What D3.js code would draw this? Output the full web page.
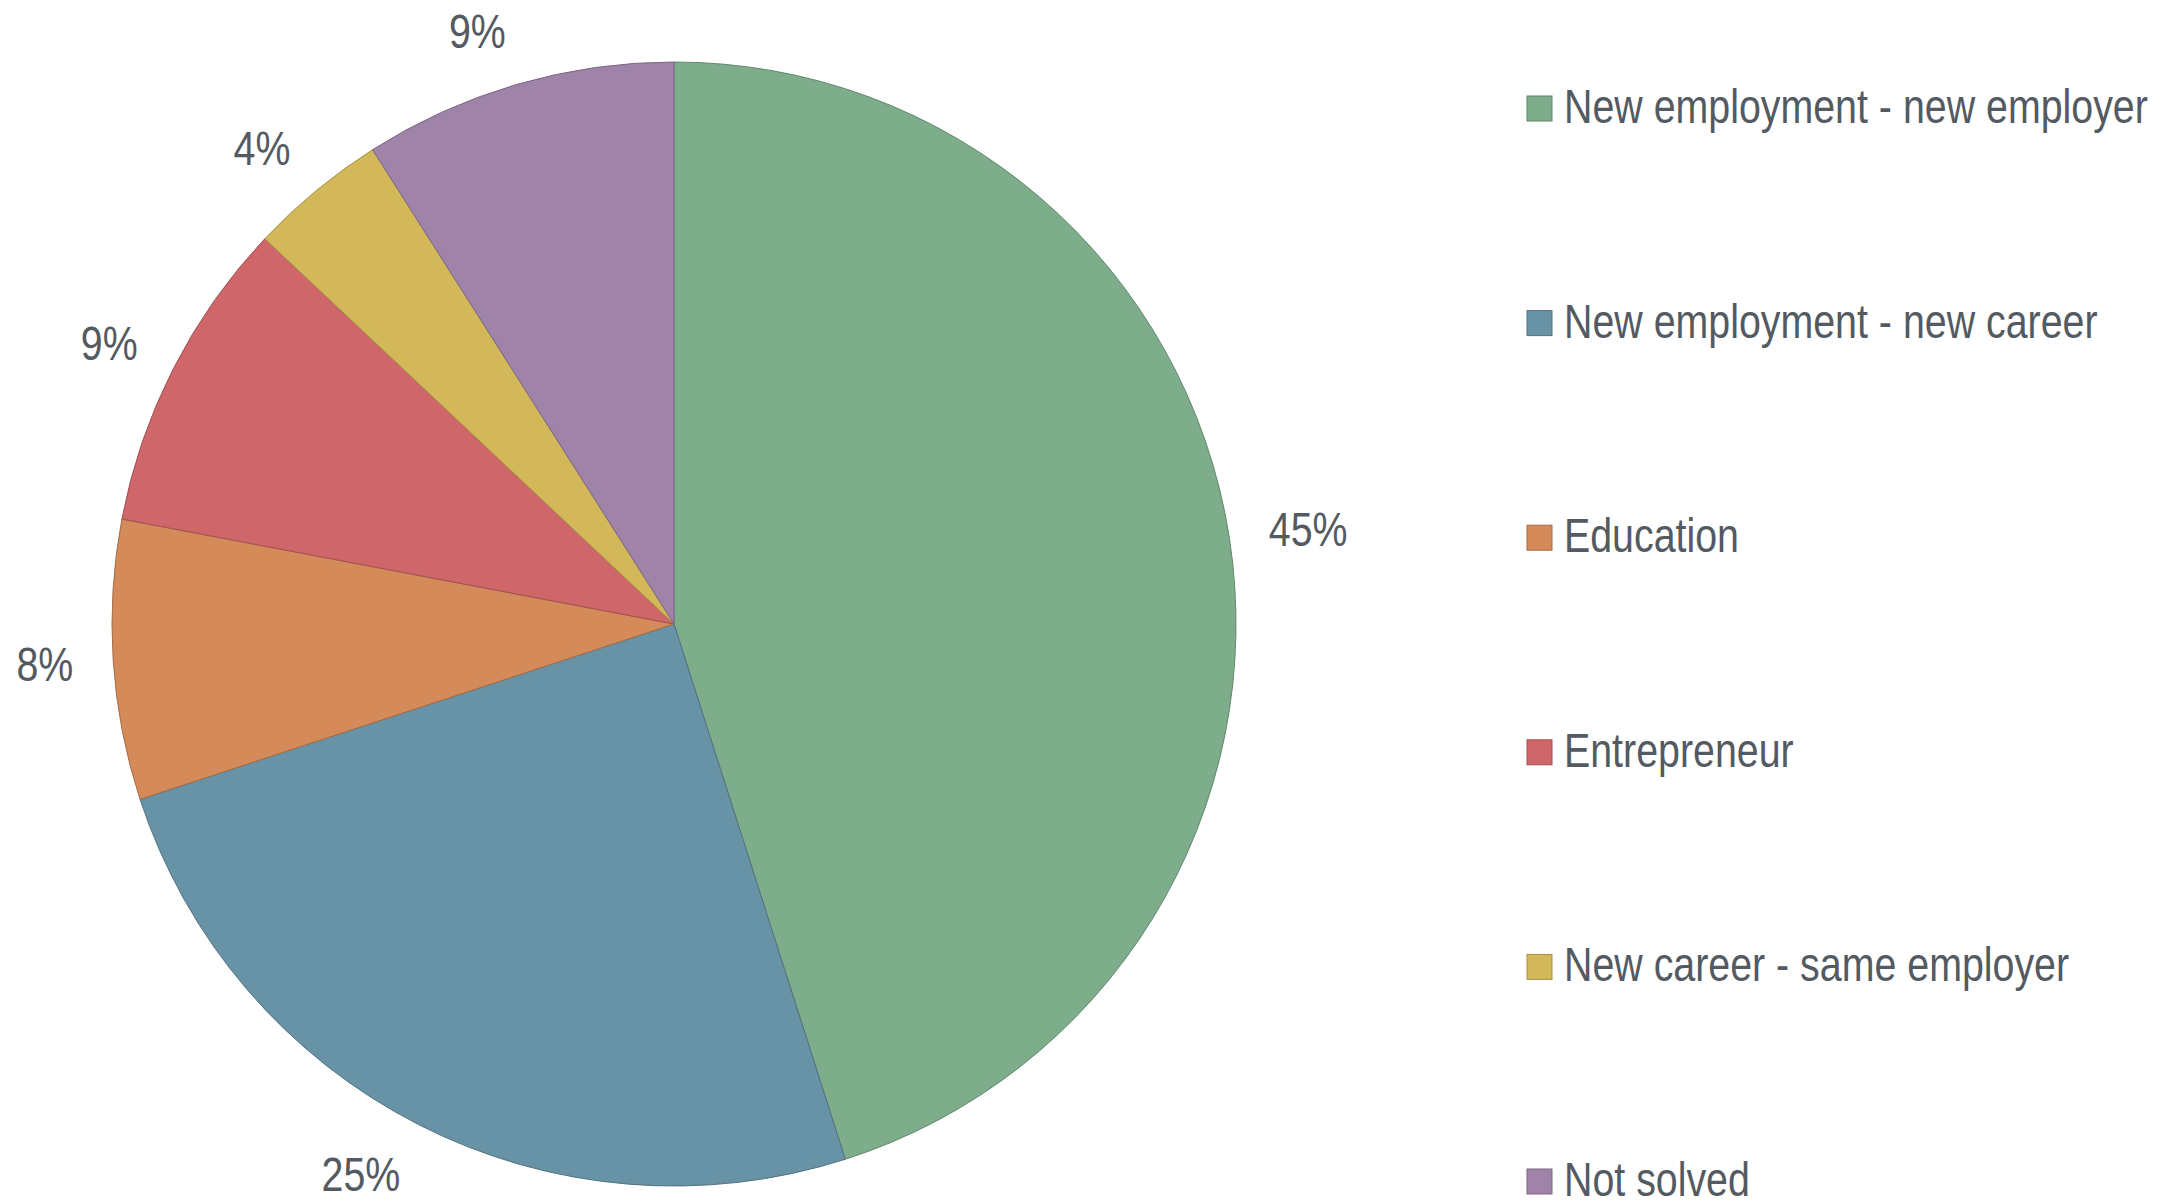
<!DOCTYPE html>
<html>
<head>
<meta charset="utf-8">
<script src="https://cdn.jsdelivr.net/npm/d3@7"></script>
<style>
html,body{margin:0;padding:0;background:#fff;}
svg{display:block;}
</style>
</head>
<body>
<svg id="chart" width="2180" height="1203"></svg>
<script>
const categories = ["New employment - new employer","New employment - new career","Education","Entrepreneur","New career - same employer","Not solved"];
const values = [45.07, 24.88, 8.04, 9.03, 3.97, 9.01];
const labels = ["45%","25%","8%","9%","4%","9%"];
const colors = ["#7dad8b","#6892a5","#d48b59","#cf676a","#d3b85a","#a083a9"];

const W = 2180, H = 1203;
const cx = 674, cy = 624, R = 562;
const textColor = "#545a61";
const fontSize = 48;

const svg = d3.select("#chart");

// font check: narrow font availability
function narrowScale(){
  const t1 = svg.append("text").attr("font-family","'Liberation Sans Narrow'").attr("font-size",48).text("New employment - new employer");
  const t2 = svg.append("text").attr("font-family","'Liberation Sans'").attr("font-size",48).text("New employment - new employer");
  const w1 = t1.node().getComputedTextLength(), w2 = t2.node().getComputedTextLength();
  t1.remove(); t2.remove();
  return (w1 / w2 < 0.9) ? {family:"'Liberation Sans Narrow', 'Arial Narrow', sans-serif", sx:1} : {family:"'Liberation Sans', Arial, sans-serif", sx:0.82};
}
const F = narrowScale();

const data = categories.map((c,i)=>({cat:c, value:values[i], label:labels[i], color:colors[i]}));
const pie = d3.pie().sort(null).value(d=>d.value);
const arcs = pie(data);
const arc = d3.arc().innerRadius(0).outerRadius(R);

const g = svg.append("g").attr("transform",`translate(${cx},${cy})`);
g.selectAll("path").data(arcs).join("path")
  .attr("d",arc)
  .attr("fill",d=>d.data.color)
  .attr("stroke",d=>d3.color(d.data.color).darker(0.7))
  .attr("stroke-width",1)
  .attr("stroke-linejoin","round");

// labels
const labelR = R + 40;
g.selectAll("g.lbl").data(arcs).join("g")
  .attr("class","lbl")
  .each(function(d){
    const a = (d.startAngle + d.endAngle)/2;
    const x = Math.sin(a)*labelR;
    const y = -Math.cos(a)*labelR - Math.cos(a)*16;
    const right = Math.sin(a) >= 0;
    d3.select(this).attr("transform",`translate(${x},${y}) scale(${F.sx},1)`)
      .append("text")
      .attr("x",0).attr("y",17)
      .attr("text-anchor", right ? "start" : "end")
      .attr("font-family",F.family)
      .attr("font-size",fontSize)
      .attr("fill",textColor)
      .text(d.data.label);
  });

// legend
const ly = d3.scalePoint().domain(categories).range([107, 1180]);
const legend = svg.append("g");
const items = legend.selectAll("g").data(data).join("g")
  .attr("transform",d=>`translate(1527,${ly(d.cat)})`);
items.append("rect")
  .attr("x",0).attr("y",-11).attr("width",25).attr("height",25)
  .attr("fill",d=>d.color)
  .attr("stroke",d=>d3.color(d.color).darker(0.7))
  .attr("stroke-width",1);
items.append("g").attr("transform",`translate(37,0) scale(${F.sx},1)`)
  .append("text")
  .attr("x",0).attr("y",16)
  .attr("font-family",F.family)
  .attr("font-size",fontSize)
  .attr("fill",textColor)
  .text(d=>d.cat);
</script>
</body>
</html>
